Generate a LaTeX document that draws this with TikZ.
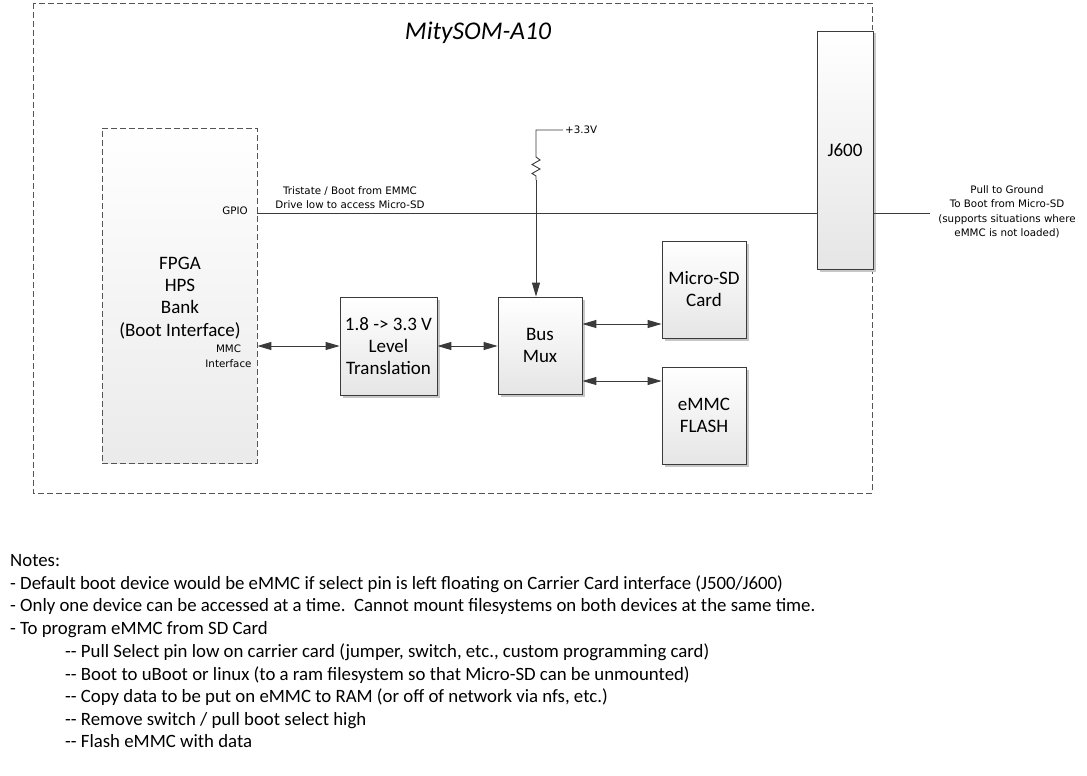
\documentclass[tikz,border=0pt]{standalone}
\usepackage{fontspec}
\setmainfont{Carlito}
\newfontfamily\smallfont{DejaVu Sans}
\usetikzlibrary{arrows.meta,shadows}
\definecolor{ln}{HTML}{3A3A3A}
\definecolor{dsh}{HTML}{555555}
\newcommand\ddash{\mbox{-}\mbox{-}}
\tikzset{
  blk/.style={draw=ln, line width=0.8pt, top color=white, bottom color=black!10,
    drop shadow={shadow xshift=2.5pt, shadow yshift=-2.5pt, fill=black!22, opacity=1},
    align=center, font=\fontsize{19}{22}\selectfont, inner sep=0pt},
  wire/.style={draw=ln, line width=0.9pt},
  biarrow/.style={wire, {Triangle[length=14pt,width=8pt]}-{Triangle[length=14pt,width=8pt]}},
  lbl/.style={font=\smallfont\fontsize{10.3}{14}\selectfont, inner sep=0pt, text=black},
  note/.style={font=\fontsize{18.8}{22.6}\selectfont, anchor=base west, inner sep=0pt},
}
\begin{document}
\begin{tikzpicture}[x=1pt,y=-1pt]
\useasboundingbox (0,0) rectangle (1087,776);
% outer dashed box
\draw[dsh, line width=0.8pt, dash pattern=on 6pt off 3pt] (33,3) rectangle (872,493);
\node (title) at (478,33) {\fontsize{25.5}{28}\selectfont\itshape MitySOM-A10};
% FPGA block
\node[draw=dsh, line width=0.8pt, dash pattern=on 6pt off 3pt, top color=white, bottom color=black!8,
  minimum width=155pt, minimum height=335pt, inner sep=0pt] (fpga) at (179.5,295.5) {};
\node[align=center, font=\fontsize{19}{22.3}\selectfont] (fpgatxt) at (180,298) {FPGA\\HPS\\Bank\\(Boot Interface)};
% blocks
\node[blk, minimum width=56pt, minimum height=238pt] (j600) at (845,150) {J600};
\node[blk, minimum width=97pt, minimum height=98pt] (lvl) at (388.5,346) {1.8 -> 3.3 V\\Level\\Translation};
\node[blk, minimum width=84pt, minimum height=97pt] (mux) at (540,345.5) {Bus\\Mux};
\node[blk, minimum width=84pt, minimum height=97pt] (sd) at (704,289.5) {Micro-SD\\Card};
\node[blk, minimum width=84pt, minimum height=97pt] (emmc) at (704,415.5) {eMMC\\FLASH};
% labels
\node[lbl, anchor=east] (gpio) at (248,211) {GPIO};
\node[lbl] (mmc1) at (228.5,349) {MMC};
\node[lbl] (mmc2) at (228.5,363.5) {Interface};
\node[lbl] (tri1) at (350,191) {Tristate / Boot from EMMC};
\node[lbl] (tri2) at (350,205) {Drive low to access Micro-SD};
\node[lbl, anchor=west] (vcclbl) at (565,130) {+3.3V};
\node[lbl, align=center, font=\smallfont\fontsize{10.3}{14.5}\selectfont] (pull) at (1007,212) {Pull to Ground\\To Boot from Micro-SD\\(supports situations where\\eMMC is not loaded)};
% GPIO wire
\coordinate (gy) at (0,213);
\coordinate (gnd) at (930,213);
\draw[wire] (fpga.east |- gy) -- (j600.west |- gy);
\draw[wire] (j600.east |- gy) -- (gnd);
% pull-up
\coordinate (vcc) at (563,130);
\draw[wire] (vcc) -- (536,130) -- (536,157) -- (540,160) -- (532,164.5) -- (540,169) -- (532,173.5) -- (536,176) -- (536,180);
\draw[wire, -{Triangle[length=14pt,width=8pt]}] (536,180) -- (mux.north -| 536,0);
% bus arrows
\draw[biarrow] (fpga.east |- lvl) -- (lvl.west);
\draw[biarrow] (lvl.east) -- (mux.west |- lvl);
\draw[biarrow] (mux.east |- 0,324) -- (sd.west |- 0,324);
\draw[biarrow] (mux.east |- 0,381) -- (emmc.west |- 0,381);
% notes
\node[note] (n0) at (10,566) {Notes:};
\node[note] (n1) at (10,589) {- Default boot device would be eMMC if select pin is left floating on Carrier Card interface (J500/J600)};
\node[note] (n2) at (10,611.5) {- Only one device can be accessed at a time.\ \ Cannot mount filesystems on both devices at the same time.};
\node[note] (n3) at (10,634) {- To program eMMC from SD Card};
\node[note] (n4) at (65,657) {\ddash{} Pull Select pin low on carrier card (jumper, switch, etc., custom programming card)};
\node[note] (n5) at (65,680) {\ddash{} Boot to uBoot or linux (to a ram filesystem so that Micro-SD can be unmounted)};
\node[note] (n6) at (65,702.5) {\ddash{} Copy data to be put on eMMC to RAM (or off of network via nfs, etc.)};
\node[note] (n7) at (65,725) {\ddash{} Remove switch / pull boot select high};
\node[note] (n8) at (65,747.5) {\ddash{} Flash eMMC with data};
\end{tikzpicture}
\end{document}
